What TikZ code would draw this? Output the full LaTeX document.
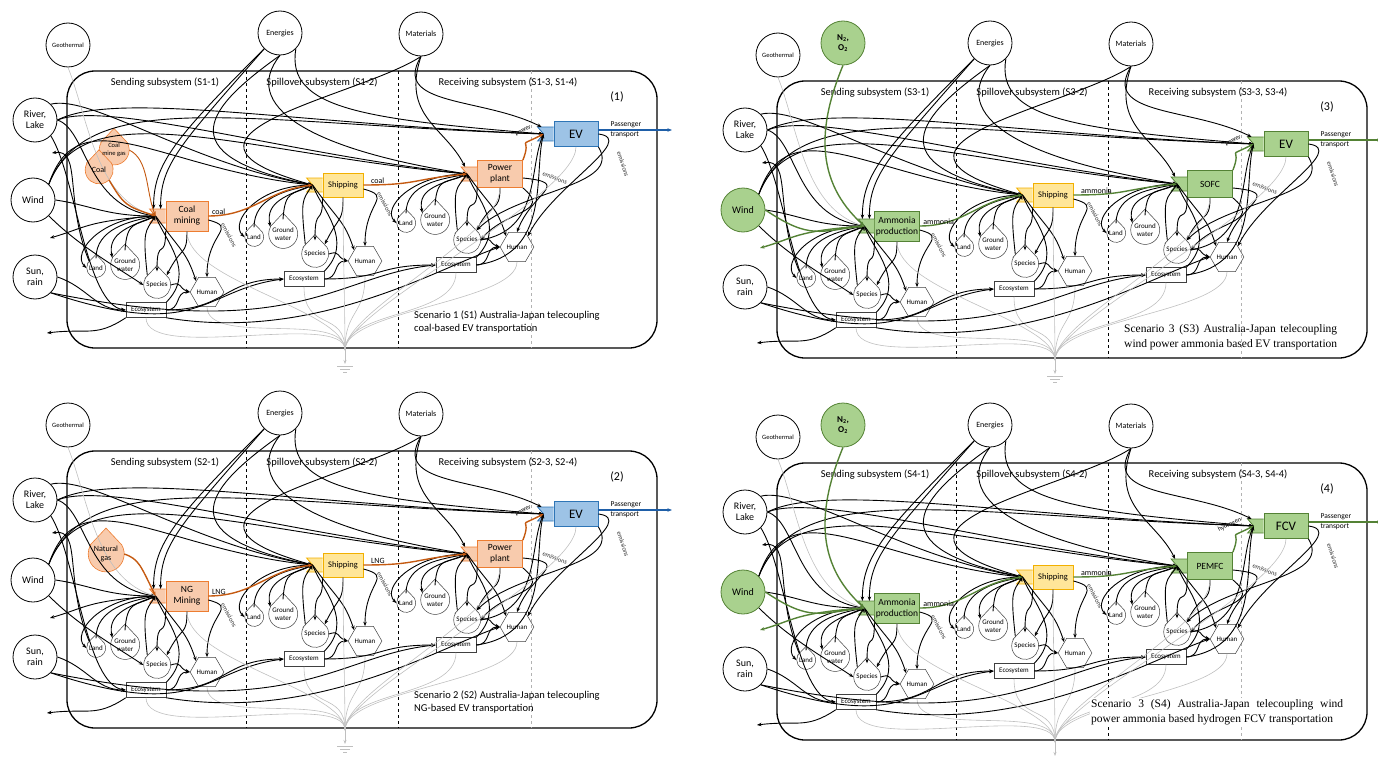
\documentclass[tikz,border=0pt]{standalone}
\usepackage{fontspec}
\setmainfont{Carlito}
\newfontfamily\serifcap{Liberation Serif}
\usetikzlibrary{arrows.meta,shapes.geometric}

\definecolor{orfill}{HTML}{F8CBAD}
\definecolor{orline}{HTML}{ED7D31}
\definecolor{orflow}{HTML}{C55A11}
\definecolor{blfill}{HTML}{9DC3E6}
\definecolor{blline}{HTML}{2E75B6}
\definecolor{bldark}{HTML}{1F5FA8}
\definecolor{grfill}{HTML}{A9D18E}
\definecolor{grline}{HTML}{548235}
\definecolor{yefill}{HTML}{FFE699}
\definecolor{yeline}{HTML}{F2B000}

\pgfdeclarelayer{background}
\pgfsetlayers{background,main}

% outline of a stock: pointed roof, round base
\newcommand\blobpath[2]{%
  \let\bn\tikzlastnode
  \begin{pgfonlayer}{background}
    \filldraw[#2, name prefix=] (\bn.150) -- ([yshift=0.72*#1]\bn.center) -- (\bn.30)
      arc[start angle=30, end angle=-210, radius=0.5*#1] -- cycle;
  \end{pgfonlayer}}
% input port on the left of a process box
\newcommand\intab[2]{\filldraw[#2, line width=0.8pt] ([shift={(0,-7)}]#1.west) -- ++(-16,0) -- ++(6,7) -- ++(-6,7) -- ++(16,0);}

\tikzset{
  ext/.style={circle, draw, line width=0.8pt, minimum size=44pt, inner sep=0pt, align=center, font=\fontsize{10}{11}\selectfont},
  frame/.style={draw, line width=1.3pt, rounded corners=28pt},
  divide/.style={dashed, line width=0.6pt},
  sublabel/.style={font=\fontsize{10.5}{12}\selectfont},
  proc/.style={draw, line width=0.8pt, minimum width=42pt, minimum height=30pt, inner sep=1pt, align=center, font=\fontsize{9.5}{11}\selectfont},
  shipbox/.style={fill=yefill, draw=yeline},
  blobline/.style={draw=black!75, fill=white, line width=0.5pt},
  blob/.style={circle, minimum size=#1, inner sep=0pt, align=center, font=\fontsize{7}{8}\selectfont,
    append after command={\pgfextra{\blobpath{#1}{blobline}}}},
  srcblob/.style={circle, minimum size=#1, inner sep=0pt, align=center, font=\fontsize{8}{9}\selectfont,
    append after command={\pgfextra{\blobpath{#1}{srcline}}}},
  human/.style={regular polygon, regular polygon sides=6, draw=black!75, line width=0.5pt, minimum size=32pt, inner sep=0pt, font=\fontsize{7}{8}\selectfont},
  eco/.style={draw=black!75, line width=0.5pt, minimum width=40pt, minimum height=15pt, inner sep=1pt, font=\fontsize{7}{8}\selectfont},
  flowbase/.style={-{Stealth[length=4.5pt,width=3.5pt]}},
  flow/.style={flowbase, line width=0.9pt},
  sink/.style={draw=black!25, line width=0.6pt},
  flowlabel/.style={font=\fontsize{8}{9}\selectfont, inner sep=1pt},
  emis/.style={font=\fontsize{6.5}{7}\selectfont, text=black!80, inner sep=0.5pt},
  capsans/.style={font=\fontsize{10.5}{13}\selectfont, align=left, inner sep=0pt},
  capserif/.style={font=\serifcap\fontsize{11.5}{15}\selectfont, align=justify, inner sep=1pt},
  coalrun/.style={pone/.style={fill=orfill, draw=orline}, pfin/.style={fill=blfill, draw=blline},
    fuel/.style={flowbase, draw=orflow, line width=1.4pt}, ret/.style={flow},
    windfill/.style={}, outflow/.style={flowbase, draw=bldark, line width=1.4pt},
    srcline/.style={fill=orfill, draw=orline, line width=0.6pt}},
  windrun/.style={pone/.style={fill=grfill, draw=grline}, pfin/.style={fill=grfill, draw=grline},
    fuel/.style={flowbase, draw=grline, line width=1.4pt}, ret/.style={fuel},
    windfill/.style={fill=grfill, draw=grline}, outflow/.style={fuel},
    srcline/.style={fill=grfill, draw=grline}},
}

% one telecoupling scenario
\newcommand\telepanel[8]{%
\begin{scope}[shift={#2}, #3, name prefix=p#1-]
  \node[ext, font=\fontsize{6.5}{7}\selectfont] (geo) at (68,45) {Geothermal};
  \node[ext, font=\fontsize{8}{9}\selectfont] (ener) at (280,33) {Energies};
  \node[ext, font=\fontsize{8}{9}\selectfont] (mat) at (421,34) {Materials};
  \node[ext] (river) at (35,120) {River,\\Lake};
  \node[ext, windfill] (wind) at (33,200) {Wind};
  \node[ext] (sun) at (35,277) {Sun,\\rain};
  \draw[frame] (67,71) rectangle (657,348);
  \draw[divide] (246,71) -- (246,348);
  \draw[divide] (398,71) -- (398,348);
  \draw[divide, black!30] (531,71) -- (531,348);
  \node[sublabel] (lsend) at (165,83) {Sending subsystem (S#1-1)};
  \node[sublabel] (lspill) at (322,83) {Spillover subsystem (S#1-2)};
  \node[sublabel] (lrec) at (508,83) {Receiving subsystem (S#1-3, S#1-4)};
  \node[font=\fontsize{12}{13}\selectfont] (num) at (617,97) {(#1)};
  \node[proc, pone] (pA) at (187,216) {#4};
  \node[proc, shipbox, minimum width=40pt, minimum height=24pt, font=\fontsize{8.5}{10}\selectfont] (ship) at (343,185) {Shipping};
  \node[proc, pone, minimum width=45pt, minimum height=27pt] (pB) at (500,174) {#5};
  \node[proc, pfin, minimum width=44pt, minimum height=25pt, font=\fontsize{13}{14}\selectfont] (fin) at (576,134) {#6};
  \intab{pA}{pone} \intab{ship}{shipbox} \intab{pB}{pone} \intab{fin}{pfin}
  \coordinate (inpA) at ([shift={(-10,0)}]pA.west);
  \coordinate (inship) at ([shift={(-10,0)}]ship.west);
  \coordinate (inpB) at ([shift={(-10,0)}]pB.west);
  \coordinate (infin) at ([shift={(-10,0)}]fin.west);
  \coordinate (gnd) at (345,350);
  \foreach \k/\dx/\dy/\p in {1/0/0/pA, 2/158/-31/ship, 3/310/-45/pB}{
    \begin{scope}[shift={(\dx,\dy)}]
      \node[blob=19pt] (land\k) at (96,268) {Land};
      \node[blob=29pt] (gw\k) at (125,265) {Ground\\water};
      \node[blob=27pt] (spec\k) at (157,285) {Species};
      \node[human] (hum\k) at (207,292) {Human};
      \node[eco] (eco\k) at (146,310) {Ecosystem};
    \end{scope}
    \draw[flow] (land\k.north) .. controls +(0,-30) and +(-25,5) .. (in\p);
    \draw[flow] (gw\k.north) .. controls +(2,-30) and +(-20,10) .. (in\p);
    \draw[flow] (spec\k.north west) .. controls +(-5,-45) and +(-10,15) .. (in\p);
    \draw[flow] (in\p) .. controls +(-55,0) and +(-15,-15) .. (land\k.west);
    \draw[flow] (in\p) .. controls +(-25,10) and +(-5,-25) .. (gw\k.150);
    \draw[flow] (\p.south west) .. controls +(0,30) and +(0,-35) .. (spec\k.north);
    \draw[flow] (\p.south) .. controls +(0,25) and +(15,-30) .. (spec\k.north east);
    \draw[flow] (in\p) .. controls +(25,35) and +(-10,-30) .. (hum\k.north west);
    \draw[flow] (eco\k.east) .. controls +(15,0) and +(-15,0) .. (hum\k.west);
    \draw[flow] (spec\k.east) .. controls +(12,-4) and +(-12,-4) .. (hum\k.west);
    \draw[flow] (eco\k.north east) .. controls +(30,-30) and +(10,25) .. (in\p);
    \draw[sink] (eco\k.south) .. controls +(0,45) and +(0,-40) .. (gnd);
    \draw[sink] (hum\k.south) .. controls +(0,40) and +(0,-40) .. (gnd);
  }
  \foreach \k/\p in {1/pA, 2/ship}{
    \draw[flow] ([yshift=-4pt]\p.east) .. controls +(30,8) and +(0,-45) .. (hum\k.north);
    \node[emis, rotate=-62] (em\k) at ([shift={(42,19)}]\p.center) {emissions};
  }
  \draw[flow] ([yshift=-4pt]pB.east) .. controls +(50,5) and +(15,-40) .. (hum3.north);
  \node[emis, rotate=-22] (em3) at (555,178) {emissions};
  \draw[flow] (fin.east) .. controls +(40,5) and +(25,-50) .. (hum3.north east);
  \node[emis, rotate=-72] (em4) at (623,164) {emissions};
  \draw[flow] (fin.south east) .. controls +(25,40) and +(40,-40) .. (spec3.north east);
  \draw[flow] (pB.south east) .. controls +(30,25) and +(25,-30) .. (spec3.east);
  \draw[flow] (spec3.east) .. controls +(60,-10) and +(-15,35) .. (infin);
  \draw[flow] (eco3.east) .. controls +(75,-10) and +(-10,40) .. (infin);
  % inputs of the sending subsystem
  \draw[flow] (river.east) .. controls +(30,10) and +(-70,-10) .. (inpA);
  \draw[flow] (wind.east) .. controls +(35,5) and +(-50,0) .. (inpA);
  \draw[flow] (river.south east) .. controls +(25,40) and +(-40,-5) .. (eco1.west);
  \draw[flow] (sun.east) .. controls +(30,10) and +(-30,0) .. (eco1.west);
  \draw[flow] (wind.south east) .. controls +(30,30) and +(-30,-20) .. (spec1.west);
  \draw[flow] (ener.south west) .. controls +(-90,90) and +(0,-45) .. ([shift={(-12,-7)}]pA.west);
  \draw[flow] (ener.south west) .. controls +(-84,96) and +(0,-45) .. ([shift={(-5,-7)}]pA.west);
  % long flows to the other subsystems
  \draw[flow] (river.north east) .. controls +(40,-10) and +(-120,-20) .. (inship);
  \draw[flow] (river.east) .. controls +(50,-20) and +(-180,-20) .. (inpB);
  \draw[flow] (river.east) .. controls +(60,-30) and +(-250,-10) .. (infin);
  \draw[flow] (wind.north east) .. controls +(30,-90) and +(-150,-15) .. (inship);
  \draw[flow] (wind.north east) .. controls +(35,-95) and +(-220,-20) .. (inpB);
  \draw[flow] (wind.north east) .. controls +(40,-100) and +(-300,-10) .. (infin);
  \draw[flow] (ener.south) .. controls +(-70,50) and +(-150,-30) .. (inship);
  \draw[flow] (ener.south) .. controls +(-40,50) and +(-160,-25) .. (inpB);
  \draw[flow] (ener.south east) .. controls +(-10,60) and +(-180,-15) .. (infin);
  \draw[flow] (mat.south) .. controls +(-60,40) and +(-180,-50) .. (inship);
  \draw[flow] (mat.south) .. controls +(-20,60) and +(-20,-40) .. ([shift={(-12,-7)}]pB.west);
  \draw[flow] (mat.south) .. controls +(-30,50) and +(-60,-30) .. ([shift={(-12,-7)}]fin.west);
  \draw[flow] (sun.south east) .. controls +(150,50) and +(-80,10) .. (eco2.west);
  \draw[flow] (sun.south east) .. controls +(250,50) and +(-100,10) .. (eco3.west);
  \draw[flow] (eco1.east) .. controls +(60,0) and +(-60,0) .. (eco2.west);
  \draw[flow] (eco2.east) .. controls +(60,0) and +(-60,0) .. (eco3.west);
  \draw[flow] (eco1.south east) .. controls +(150,25) and +(-60,20) .. (hum3.west);
  % returns leaving the system
  \coordinate (outA) at (52,153);
  \coordinate (outB) at (50,238);
  \coordinate (outC) at (47,333);
  \draw[flow] (land1.north west) .. controls +(-25,-60) and +(30,-5) .. (outA);
  \draw[ret] (inpA) .. controls +(-70,5) and +(35,-10) .. (outB);
  \draw[flow] (eco1.south west) .. controls +(-30,20) and +(40,-5) .. (outC);
  % telecoupled chain
  \draw[fuel] (pA.east) .. controls +(45,0) and +(-45,5) .. (inship) node[flowlabel, pos=0, above right, xshift=2pt] (fuelA) {#7};
  \draw[fuel] (ship.east) .. controls +(55,0) and +(-55,5) .. (inpB) node[flowlabel, pos=0, above right, xshift=6pt] (fuelB) {#7};
  \draw[fuel] (pB.north east) .. controls +(10,-25) and +(-30,15) .. (infin);
  \node[flowlabel, font=\fontsize{6.5}{7}\selectfont, rotate=25, anchor=east] (carlab) at (532,127) {#8};
  \coordinate (finout) at (672,130);
  \draw[outflow] ([yshift=4pt]fin.east) -- (finout);
  \node[font=\fontsize{7.5}{10}\selectfont, align=left, anchor=west] (ptrans) at (607,130) {Passenger\\transport};
  % dissipation
  \foreach \s in {pA, ship, pB, fin} \draw[sink] (\s.south) .. controls +(0,50) and +(0,-40) .. (gnd);
  \draw[sink] (geo.south) .. controls +(20,50) and +(-60,-15) .. (inpA);
  \coordinate (gndb) at (345,364);
  \draw[sink, -{Stealth[length=4pt]}] (gnd) -- (gndb);
  \draw[sink] (337,366) -- (353,366) (340,369) -- (350,369) (343,372) -- (347,372);
\end{scope}}

\begin{document}
\begin{tikzpicture}[x=1pt, y=-1pt]
\useasboundingbox (0,0) rectangle (1378,757);

\telepanel{1}{(0,0)}{coalrun}{Coal\\mining}{Power\\plant}{EV}{coal}{power}
\begin{scope}[coalrun, name prefix=p1-]
  \node[srcblob=30pt, font=\fontsize{6.5}{7.5}\selectfont] (gas) at (114,150) {Coal\\mine gas};
  \node[srcblob=28pt] (coal) at (99,170) {Coal};
  \draw[fuel, line width=0.9pt] (gas.east) .. controls +(20,10) and +(-10,-25) .. (inpA);
  \draw[fuel] (coal.south east) .. controls +(15,25) and +(-30,-10) .. (inpA);
  \node[capsans, anchor=north west] (cap) at (414,311) {Scenario 1 (S1) Australia-Japan telecoupling\\coal-based EV transportation};
\end{scope}

\telepanel{2}{(0,380)}{coalrun}{NG\\Mining}{Power\\plant}{EV}{LNG}{power}
\begin{scope}[shift={(0,380)}, coalrun, name prefix=p2-]
  \node[srcblob=36pt] (ngas) at (106,174) {Natural\\gas};
  \draw[fuel] (ngas.east) .. controls +(15,5) and +(-15,-30) .. (inpA);
  \node[capsans, anchor=north west] (cap) at (414,311) {Scenario 2 (S2) Australia-Japan telecoupling\\NG-based EV transportation};
\end{scope}

\telepanel{3}{(710,10)}{windrun}{Ammonia\\production}{SOFC}{EV}{ammonia}{power}
\begin{scope}[shift={(710,10)}, windrun, name prefix=p3-]
  \node[ext, fill=grfill, draw=grline, font=\bfseries\fontsize{9}{10}\selectfont] (air) at (133,33) {N\textsubscript{2},\\O\textsubscript{2}};
  \draw[fuel] (air.south) .. controls +(-25,60) and +(-50,-45) .. (inpA);
  \draw[fuel] (wind.east) .. controls +(45,30) and +(-45,5) .. (inpA);
  \node[capserif, text width=213pt, anchor=north west] (cap) at (413,313) {Scenario 3 (S3) Australia-Japan telecoupling\linebreak wind power ammonia based EV transportation};
\end{scope}

\telepanel{4}{(710,392)}{windrun}{Ammonia\\production}{PEMFC}{FCV}{ammonia}{hydrogen}
\begin{scope}[shift={(710,392)}, windrun, name prefix=p4-]
  \node[ext, fill=grfill, draw=grline, font=\bfseries\fontsize{9}{10}\selectfont] (air) at (133,33) {N\textsubscript{2},\\O\textsubscript{2}};
  \draw[fuel] (air.south) .. controls +(-25,60) and +(-50,-45) .. (inpA);
  \draw[fuel] (wind.east) .. controls +(45,30) and +(-45,5) .. (inpA);
  \node[capserif, text width=252pt, fill=white, anchor=north west] (cap) at (380,306) {Scenario 3 (S4) Australia-Japan telecoupling wind\linebreak power ammonia based hydrogen FCV transportation};
\end{scope}
\end{tikzpicture}
\end{document}
